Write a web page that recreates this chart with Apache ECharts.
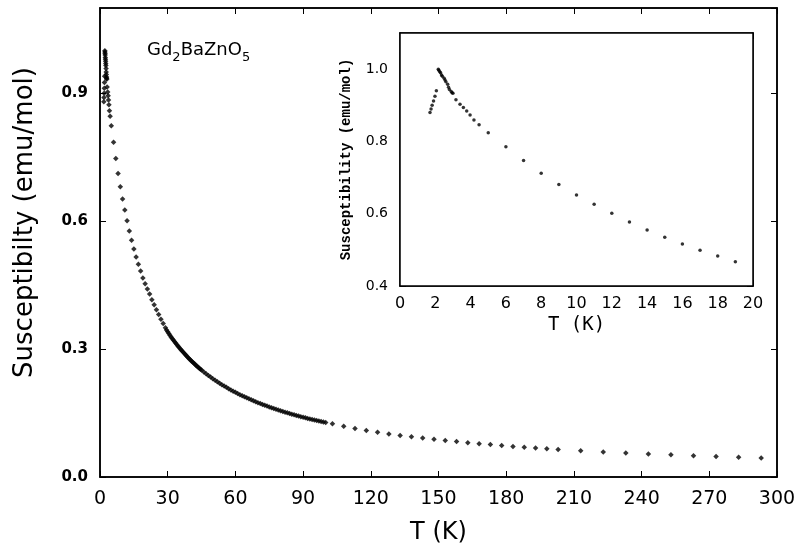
<!DOCTYPE html>
<html>
<head>
<meta charset="utf-8">
<script src="https://cdn.jsdelivr.net/npm/echarts@6/dist/echarts.min.js"></script>
<style>html,body{margin:0;padding:0;background:#fff}#c{width:799px;height:556px}</style>
</head>
<body>
<div id="c"></div>
<script>
// ---- data ----
const tempLow = [1.70,1.76,1.82,1.90,1.98,2.06,2.17,2.20,2.25,2.30,2.35,2.40,2.50,2.55,2.60,2.70,2.75,2.80,2.90,2.95,3.00,3.17,3.40,3.59,3.78,3.97,4.19,4.48];
const chiLow  = [0.880,0.890,0.900,0.912,0.925,0.940,1.000,0.997,0.993,0.990,0.984,0.980,0.975,0.970,0.965,0.958,0.950,0.944,0.938,0.935,0.933,0.915,0.903,0.894,0.884,0.873,0.859,0.846];
const tempMid = [5,6,7,8,9,10,11,12,13,14,15,16,17,18,19,20,21,22,23,24,25,26,27,28,29];
const chiMid  = [0.824,0.785,0.747,0.712,0.681,0.652,0.626,0.601,0.577,0.555,0.535,0.516,0.499,0.483,0.467,0.453,0.441,0.429,0.416,0.404,0.392,0.381,0.370,0.360,0.350];
const tempDense = [29.5,30,30.5,31,31.5,32,32.5,33,33.5,34,34.5,35,35.5,36,36.5,37,37.5,38,38.5,39,39.5,40,40.5,41,41.5,42,42.5,43,43.5,44,44.5,45,
  46,47,48,49,50,51,52,53,54,55,56,57,58,59,60,61,62,63,64,65,66,67,68,69,70,71,72,73,74,75,76,77,78,79,80,81,82,83,84,85,86,87,88,89,90,91,92,93,94,95,96,97,98,99,100];
const chiDense = [0.3445,0.3404,0.3364,0.3325,0.3286,0.3249,0.3212,0.3177,0.3142,0.3108,0.3074,0.3042,0.3010,0.2979,0.2948,0.2918,0.2888,0.2860,0.2831,0.2803,0.2776,0.2750,0.2723,0.2698,0.2672,0.2648,0.2623,0.2600,0.2576,0.2553,0.2530,0.2508,
  0.2465,0.2424,0.2383,0.2344,0.2306,0.2270,0.2234,0.2200,0.2166,0.2134,0.2103,0.2072,0.2043,0.2014,0.1986,0.1959,0.1932,0.1907,0.1881,0.1857,0.1833,0.1810,0.1788,0.1766,0.1744,0.1723,0.1702,0.1682,0.1663,0.1644,0.1625,0.1607,0.1589,0.1572,0.1555,0.1538,0.1521,0.1505,0.1490,0.1474,0.1459,0.1445,0.1430,0.1416,0.1402,0.1389,0.1375,0.1362,0.1349,0.1337,0.1324,0.1312,0.1300,0.1289,0.1277];
const tempHigh = [103,108,113,118,123,128,133,138,143,148,153,158,163,168,173,178,183,188,193,198,203,213,223,233,243,253,263,273,283,293];
const chiHigh  = [0.125,0.119,0.114,0.109,0.105,0.101,0.0975,0.0945,0.0915,0.0885,0.0855,0.083,0.0805,0.078,0.076,0.0738,0.0718,0.0698,0.068,0.0663,0.0646,0.0615,0.0588,0.0563,0.054,0.052,0.050,0.0482,0.0464,0.0448];

const mainXTicks = {min: 0, max: 300, interval: 30};
const mainYTicks = {min: 0, max: 1.1, interval: 0.3};
const insetXTicks = {min: 0, max: 20, interval: 2};
const insetYTicks = {min: 0.4, max: 1.1, interval: 0.2};

const titleText = ['Gd', '2', 'BaZnO', '5'];
const mainXName = 'T (K)';
const mainYName = 'Susceptibilty (emu/mol)';
const insetXName = 'T (K)';
const insetYName = 'Susceptibility (emu/mol)';

// ---- build ----
const zip = (a, b) => a.map((v, i) => [v, b[i]]);
const mainData = [].concat(zip(tempLow, chiLow), zip(tempMid, chiMid), zip(tempDense, chiDense), zip(tempHigh, chiHigh));
const insetData = [].concat(zip(tempLow, chiLow), zip(tempMid, chiMid)).filter(p => p[0] < 20);

const black = '#000';
function ax(gridIndex, ticks, pos, opts) {
  const base = {
    type: 'value', gridIndex, position: pos,
    min: ticks.min, max: ticks.max, interval: ticks.interval,
    axisLine: {show: true, onZero: false, lineStyle: {color: black, width: 1.5}},
    axisTick: {show: true, inside: true, length: 6, lineStyle: {color: black, width: 1}},
    splitLine: {show: false},
    axisLabel: {show: false}
  };
  return Object.assign(base, opts || {});
}

const chart = echarts.init(document.getElementById('c'), null, {renderer: 'canvas'});
chart.setOption({
  animation: false,
  backgroundColor: '#fff',
  title: {
    left: 142, top: 31,
    text: '{a|' + titleText[0] + '}{s|' + titleText[1] + '}{a|' + titleText[2] + '}{s|' + titleText[3] + '}',
    textStyle: {
      fontWeight: 'normal',
      rich: {
        a: {fontFamily: 'DejaVu Sans', fontWeight: 'normal', fontSize: 18, color: black, lineHeight: 28, verticalAlign: 'middle'},
        s: {fontFamily: 'DejaVu Sans', fontWeight: 'normal', fontSize: 13, color: black, lineHeight: 13, verticalAlign: 'bottom'}
      }
    }
  },
  grid: [
    {left: 100, top: 8, width: 677, height: 469, show: true, borderColor: black, borderWidth: 1.5, backgroundColor: 'transparent'},
    {left: 400, top: 33, width: 353, height: 253, show: true, borderColor: black, borderWidth: 1.5, backgroundColor: '#fff', z: 1}
  ],
  xAxis: [
    ax(0, mainXTicks, 'bottom', {
      name: mainXName, nameLocation: 'middle', nameGap: 44,
      nameTextStyle: {fontFamily: 'DejaVu Sans', fontSize: 24, color: black},
      axisLabel: {show: true, margin: 13, fontFamily: 'DejaVu Sans', fontSize: 19, color: black}
    }),
    ax(0, mainXTicks, 'top'),
    ax(1, insetXTicks, 'bottom', {
      name: insetXName, nameLocation: 'middle', nameGap: 30,
      nameTextStyle: {fontFamily: 'DejaVu Sans Mono', fontSize: 19, color: black},
      axisLabel: {show: true, margin: 10, fontFamily: 'DejaVu Sans', fontSize: 16, color: black}
    }),
    ax(1, insetXTicks, 'top')
  ],
  yAxis: [
    ax(0, mainYTicks, 'left', {
      name: mainYName, nameLocation: 'middle', nameGap: 62, nameRotate: 90,
      nameTextStyle: {fontFamily: 'DejaVu Sans', fontSize: 26, color: black, padding: [0, 0, 0, 40]},
      axisLabel: {show: true, margin: 12, showMaxLabel: false, fontFamily: 'DejaVu Sans', fontWeight: 'bold', fontSize: 15, color: black,
        formatter: v => v.toFixed(1)}
    }),
    ax(0, mainYTicks, 'right'),
    ax(1, insetYTicks, 'left', {
      name: insetYName, nameLocation: 'middle', nameGap: 47, nameRotate: 90,
      nameTextStyle: {fontFamily: 'Liberation Mono', fontWeight: 'bold', fontSize: 14, color: black},
      axisLabel: {show: true, margin: 12, showMaxLabel: false, fontFamily: 'DejaVu Sans', fontSize: 14, color: black,
        formatter: v => v.toFixed(1)}
    }),
    ax(1, insetYTicks, 'right')
  ],
  series: [
    {type: 'scatter', xAxisIndex: 0, yAxisIndex: 0, data: mainData, symbol: 'diamond', symbolSize: 5.5,
      itemStyle: {color: black}, z: 3},
    {type: 'scatter', xAxisIndex: 2, yAxisIndex: 2, data: insetData, symbol: 'circle', symbolSize: 3.5,
      itemStyle: {color: black}, z: 4}
  ]
});
</script>
</body>
</html>
